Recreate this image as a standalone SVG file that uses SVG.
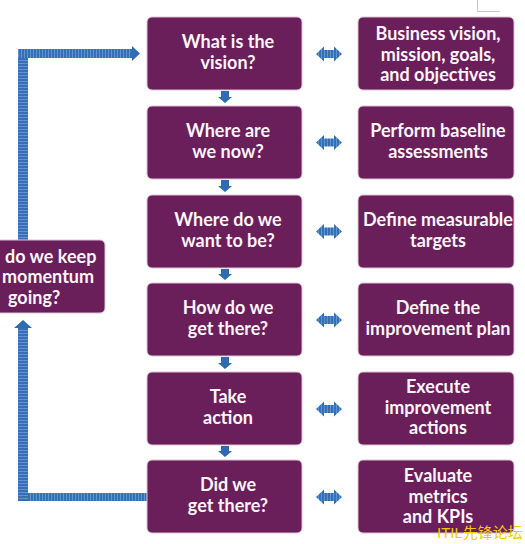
<svg xmlns="http://www.w3.org/2000/svg" width="525" height="544" viewBox="0 0 525 544">
<defs>
<pattern id="vs" patternUnits="userSpaceOnUse" width="3" height="3"><rect width="3" height="3" fill="#3470b5"/><rect width="1" height="3" fill="#6594cc"/></pattern>
<pattern id="hs" patternUnits="userSpaceOnUse" width="3" height="3"><rect width="3" height="3" fill="#3470b5"/><rect width="3" height="1" fill="#6594cc"/></pattern>
</defs>
<style>
.box{fill:#6a1f5b;stroke:#dcc3d5;stroke-width:1}
.t{font-family:Lato,"Open Sans","Liberation Sans",sans-serif;font-weight:bold;font-size:18px;fill:#fbf4f8;text-anchor:middle}
.ts{text-anchor:start}
.da{fill:url(#vs)}
.dn{fill:#2f6bb0}
.loopv{fill:url(#hs)}
.looph{fill:url(#vs)}
</style>
<rect width="525" height="544" fill="#ffffff"/>
<path d="M477.5,0 V11.5 H500" fill="none" stroke="#c8c8c8" stroke-width="1"/>

<g id="connectors">
  <!-- feedback loop -->
  <rect class="looph" x="18" y="493" width="130" height="8"/>
  <rect class="loopv" x="18" y="328" width="10" height="173"/>
  <path class="dn" d="M23,320 L32,328 L14,328 Z"/>
  <rect class="loopv" x="18" y="49" width="10" height="192"/>
  <rect class="looph" x="18" y="49" width="114" height="9"/>
  <path class="dn" d="M140,53.5 L132,46 L132,61 Z"/>
  <!-- down arrows -->
  <path class="dn" d="M221,91 H229 V97 H232 L225,103 L218,97 H221 Z"/>
  <path class="dn" d="M221,180 H229 V186 H232 L225,192 L218,186 H221 Z"/>
  <path class="dn" d="M221,269 H229 V274 H232 L225,280 L218,274 H221 Z"/>
  <path class="dn" d="M221,357 H229 V363 H232 L225,369 L218,363 H221 Z"/>
  <path class="dn" d="M221,446 H229 V451 H232 L225,457 L218,451 H221 Z"/>
  <!-- double arrows -->
  <g transform="translate(0,54)"><path class="da" d="M316,0 L324,-7.5 L324,-4 L334,-4 L334,-7.5 L342,0 L334,7.5 L334,4 L324,4 L324,7.5 Z"/></g>
  <g transform="translate(0,142.5)"><path class="da" d="M316,0 L324,-7.5 L324,-4 L334,-4 L334,-7.5 L342,0 L334,7.5 L334,4 L324,4 L324,7.5 Z"/></g>
  <g transform="translate(0,231.5)"><path class="da" d="M316,0 L324,-7.5 L324,-4 L334,-4 L334,-7.5 L342,0 L334,7.5 L334,4 L324,4 L324,7.5 Z"/></g>
  <g transform="translate(0,320)"><path class="da" d="M316,0 L324,-7.5 L324,-4 L334,-4 L334,-7.5 L342,0 L334,7.5 L334,4 L324,4 L324,7.5 Z"/></g>
  <g transform="translate(0,409)"><path class="da" d="M316,0 L324,-7.5 L324,-4 L334,-4 L334,-7.5 L342,0 L334,7.5 L334,4 L324,4 L324,7.5 Z"/></g>
  <g transform="translate(0,497)"><path class="da" d="M316,0 L324,-7.5 L324,-4 L334,-4 L334,-7.5 L342,0 L334,7.5 L334,4 L324,4 L324,7.5 Z"/></g>
</g>

<g id="q1"><rect class="box" x="147" y="17" width="155" height="73" rx="5"/><text class="t" x="228" y="48">What is the</text><text class="t" x="228" y="68.5">vision?</text></g>
<g id="q2"><rect class="box" x="147" y="106" width="155" height="73" rx="5"/><text class="t" x="228" y="137">Where are</text><text class="t" x="228" y="157.5">we now?</text></g>
<g id="q3"><rect class="box" x="147" y="195" width="155" height="73" rx="5"/><text class="t" x="228" y="226">Where do we</text><text class="t" x="228" y="246.5">want to be?</text></g>
<g id="q4"><rect class="box" x="147" y="283" width="155" height="73" rx="5"/><text class="t" x="228" y="314">How do we</text><text class="t" x="228" y="334.5">get there?</text></g>
<g id="q5"><rect class="box" x="147" y="372" width="155" height="73" rx="5"/><text class="t" x="228" y="403">Take</text><text class="t" x="228" y="423.5">action</text></g>
<g id="q6"><rect class="box" x="147" y="460" width="155" height="73" rx="5"/><text class="t" x="228" y="491">Did we</text><text class="t" x="228" y="511.5">get there?</text></g>

<g id="a1"><rect class="box" x="358" y="17" width="156" height="73" rx="5"/><text class="t" x="438" y="40">Business vision,</text><text class="t" x="438" y="60.5">mission, goals,</text><text class="t" x="438" y="81">and objectives</text></g>
<g id="a2"><rect class="box" x="358" y="106" width="156" height="73" rx="5"/><text class="t" x="438" y="137">Perform baseline</text><text class="t" x="438" y="157.5">assessments</text></g>
<g id="a3"><rect class="box" x="358" y="195" width="156" height="73" rx="5"/><text class="t" x="438" y="226">Define measurable</text><text class="t" x="438" y="246.5">targets</text></g>
<g id="a4"><rect class="box" x="358" y="283" width="156" height="73" rx="5"/><text class="t" x="438" y="314">Define the</text><text class="t" x="438" y="334.5">improvement plan</text></g>
<g id="a5"><rect class="box" x="358" y="372" width="156" height="73" rx="5"/><text class="t" x="438" y="393">Execute</text><text class="t" x="438" y="413.5">improvement</text><text class="t" x="438" y="434">actions</text></g>
<g id="a6"><rect class="box" x="358" y="460" width="156" height="73" rx="5"/><text class="t" x="438" y="482">Evaluate</text><text class="t" x="438" y="502.5">metrics</text><text class="t" x="438" y="523">and KPIs</text></g>

<g id="keep"><rect class="box" x="-42" y="240" width="147" height="73" rx="5"/><text class="t ts" x="5" y="262.5">do we keep</text><text class="t ts" x="2" y="283">momentum</text><text class="t ts" x="8" y="303.5">going?</text></g>

<text x="437" y="538" font-family="'Liberation Sans','Noto Sans CJK SC',sans-serif" font-size="15" fill="#f0cc00">ITIL先锋论坛</text>
</svg>
